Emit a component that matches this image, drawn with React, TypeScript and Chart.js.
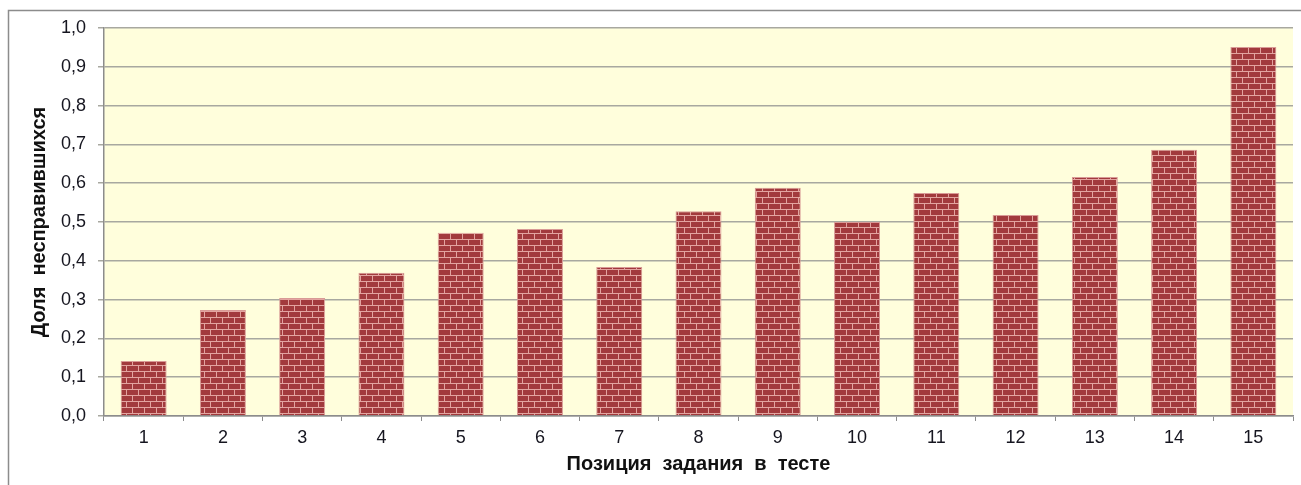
import React, { useEffect, useRef } from "react";
import { Chart, registerables } from "chart.js";

Chart.register(...registerables);

const categories = ["1", "2", "3", "4", "5", "6", "7", "8", "9", "10", "11", "12", "13", "14", "15"];
const shareFailed = [0.142, 0.273, 0.304, 0.369, 0.472, 0.482, 0.384, 0.528, 0.588, 0.5, 0.575, 0.518, 0.616, 0.686, 0.951];
const yTitle = "Доля  несправившихся";
const xTitle = "Позиция  задания  в  тесте";

function makeBrickPattern(ctx: CanvasRenderingContext2D) {
  const c = document.createElement("canvas");
  c.width = 12;
  c.height = 12;
  const g = c.getContext("2d")!;
  g.fillStyle = "#a23a3d";
  g.fillRect(0, 0, 12, 12);
  g.fillStyle = "#e3a4a0";
  g.fillRect(0, 5, 12, 1);
  g.fillRect(0, 11, 12, 1);
  g.fillRect(0, 0, 1, 5);
  g.fillRect(6, 6, 1, 5);
  return ctx.createPattern(c, "repeat")!;
}

const framePlugin = {
  id: "frame",
  beforeDraw(chart: any) {
    const { ctx, chartArea } = chart;
    ctx.save();
    ctx.fillStyle = "#fffedc";
    ctx.fillRect(chartArea.left, chartArea.top, chartArea.right - chartArea.left, chartArea.bottom - chartArea.top);
    ctx.strokeStyle = "#8c8c8c";
    ctx.lineWidth = 1.5;
    ctx.beginPath();
    ctx.moveTo(8.5, 485);
    ctx.lineTo(8.5, 10.5);
    ctx.lineTo(1301, 10.5);
    ctx.stroke();
    ctx.restore();
  },
};

export default function App() {
  const ref = useRef<HTMLCanvasElement>(null);
  useEffect(() => {
    const canvas = ref.current!;
    const ctx = canvas.getContext("2d")!;
    const pattern = makeBrickPattern(ctx);
    const font = { family: "'Liberation Sans', Arial, sans-serif", size: 18 };
    const titleFont = { family: "'Liberation Sans', Arial, sans-serif", size: 20, weight: "bold" as const };
    const chart = new Chart(canvas, {
      type: "bar",
      data: {
        labels: categories,
        datasets: [
          {
            data: shareFailed,
            backgroundColor: pattern as any,
            borderColor: "#d99a96",
            borderWidth: 1,
            categoryPercentage: 0.58,
            barPercentage: 1,
          },
        ],
      },
      plugins: [framePlugin],
      options: {
        animation: false,
        responsive: false,
        devicePixelRatio: 1,
        layout: { padding: { left: 20, top: 28, right: 8, bottom: 6 } },
        plugins: { legend: { display: false }, tooltip: { enabled: false } },
        scales: {
          x: {
            afterFit: (s: any) => {
              s.height = 63;
            },
            grid: {
              offset: true,
              drawOnChartArea: false,
              drawTicks: true,
              tickLength: 5,
              color: "#8c8c8c",
            },
            border: { color: "#8c8c8c", width: 1.5 },
            ticks: { color: "#15151f", font, padding: 6, maxRotation: 0 },
            title: {
              display: true,
              text: xTitle,
              color: "#111",
              font: titleFont,
              padding: { top: 0, bottom: 3 },
            },
          },
          y: {
            min: 0,
            max: 1,
            afterFit: (s: any) => {
              s.width = 84;
            },
            ticks: {
              stepSize: 0.1,
              color: "#15151f",
              font,
              padding: 12,
              callback: (v: any) => Number(v).toFixed(1).replace(".", ","),
            },
            grid: { color: "#a8a8a0", lineWidth: 1.5, tickLength: 6, drawTicks: true },
            border: { color: "#8c8c8c", width: 1.5 },
            title: {
              display: true,
              text: yTitle,
              color: "#111",
              font: titleFont,
              padding: { top: 7, bottom: 0 },
            },
          },
        },
      },
    });
    return () => chart.destroy();
  }, []);
  return (
    <div style={{ position: "absolute", left: 0, top: 0, width: 1301, height: 485 }}>
      <canvas ref={ref} width={1301} height={485} style={{ width: 1301, height: 485, display: "block" }} />
    </div>
  );
}
